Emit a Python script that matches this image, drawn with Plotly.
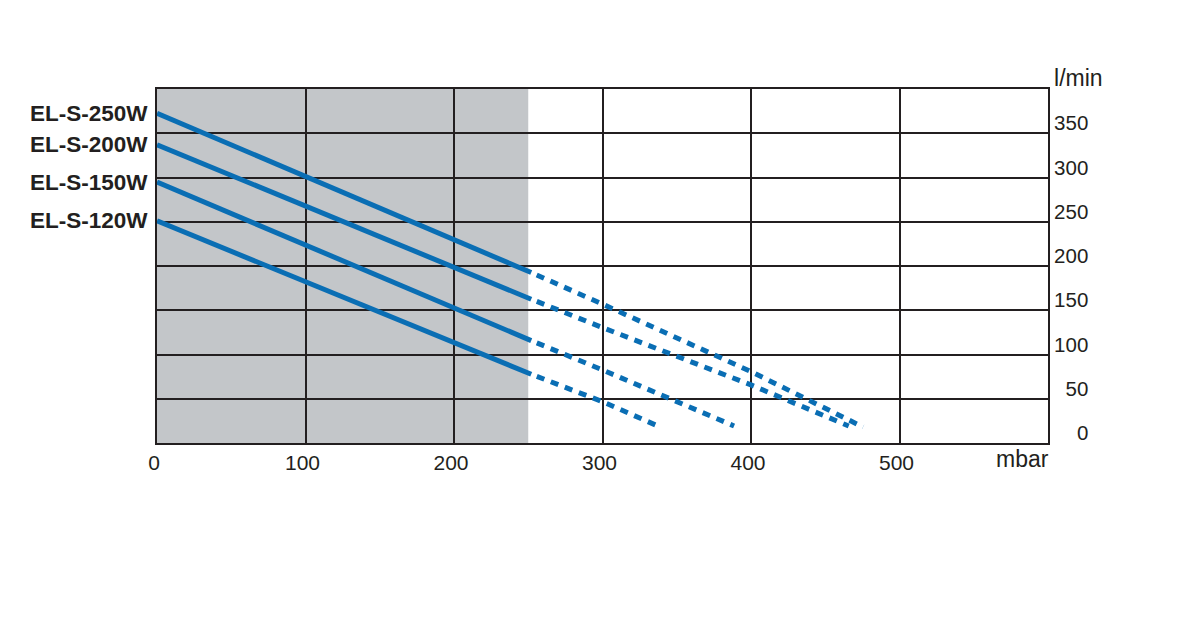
import plotly.graph_objects as go

# pressure (mbar) vs. flow (l/min)
models = ['EL-S-250W', 'EL-S-200W', 'EL-S-150W', 'EL-S-120W']

solid_x = [[0, 252], [0, 252], [0, 252], [0, 252]]
solid_y = [[372.6, 192.6], [337, 162.5], [294.8, 115.7], [251, 77.7]]

dash_x = [[252, 300, 400, 475.5],
          [252, 300, 400, 465.8],
          [252, 300, 388.6],
          [252, 300, 339.3]]
dash_y = [[192.6, 156.9, 80.7, 18],
          [162.5, 130.4, 65.6, 19.2],
          [115.7, 82.6, 19.2],
          [77.7, 46.7, 17.7]]

x_ticks = [0, 100, 200, 300, 400, 500, 600]
x_labels = ['0', '100', '200', '300', '400', '500', '']
y_ticks = [0, 50, 100, 150, 200, 250, 300, 350, 400]
y_labels = ['\u2007\u20070', '\u200750', '100', '150', '200', '250', '300', '350',
            '<span style="font-size:23px">l/min</span>']

shade_end = 250

blue = '#0a6eb4'
ink = '#231f20'
font = 'Liberation Sans, Arial'

fig = go.Figure()

for i, name in enumerate(models):
    fig.add_trace(go.Scatter(x=solid_x[i], y=solid_y[i], mode='lines',
                             line=dict(color=blue, width=5), name=name,
                             showlegend=False))
    fig.add_trace(go.Scatter(x=dash_x[i], y=dash_y[i], mode='lines',
                             line=dict(color=blue, width=5, dash='0px,6px,8px,1px'),
                             name=name, showlegend=False))
    fig.add_annotation(x=0, y=solid_y[i][0], text='<b>' + name + '</b>',
                       showarrow=False, xanchor='right', xshift=-7,
                       font=dict(family=font, size=22.5, color=ink))

fig.add_shape(type='rect', xref='x', yref='paper', x0=0, x1=shade_end, y0=0, y1=1,
              fillcolor='#c3c6c9', line_width=0, layer='below')

fig.add_annotation(x=600, y=0, text='mbar', showarrow=False, xanchor='right',
                   yanchor='top', yshift=-1, xshift=3,
                   font=dict(family=font, size=23, color=ink))

fig.update_xaxes(range=[0, 600], tickvals=x_ticks, ticktext=x_labels,
                 showgrid=True, gridcolor=ink, gridwidth=2,
                 showline=True, linecolor=ink, linewidth=2, mirror=True,
                 zeroline=False, ticks='', ticklabelshift=-3,
                 tickfont=dict(family=font, size=21, color=ink))
fig.update_yaxes(range=[0, 400], tickvals=y_ticks, ticktext=y_labels, side='right',
                 showgrid=True, gridcolor=ink, gridwidth=2,
                 showline=True, linecolor=ink, linewidth=2, mirror=True,
                 zeroline=False, ticks='', ticklabelshift=-10, ticklabelstandoff=0,
                 tickfont=dict(family=font, size=20.5, color=ink))

fig.update_layout(width=1188, height=608, margin=dict(l=149, r=148, t=81, b=173),
                  plot_bgcolor='white', paper_bgcolor='white')

fig.write_html('out.html')
